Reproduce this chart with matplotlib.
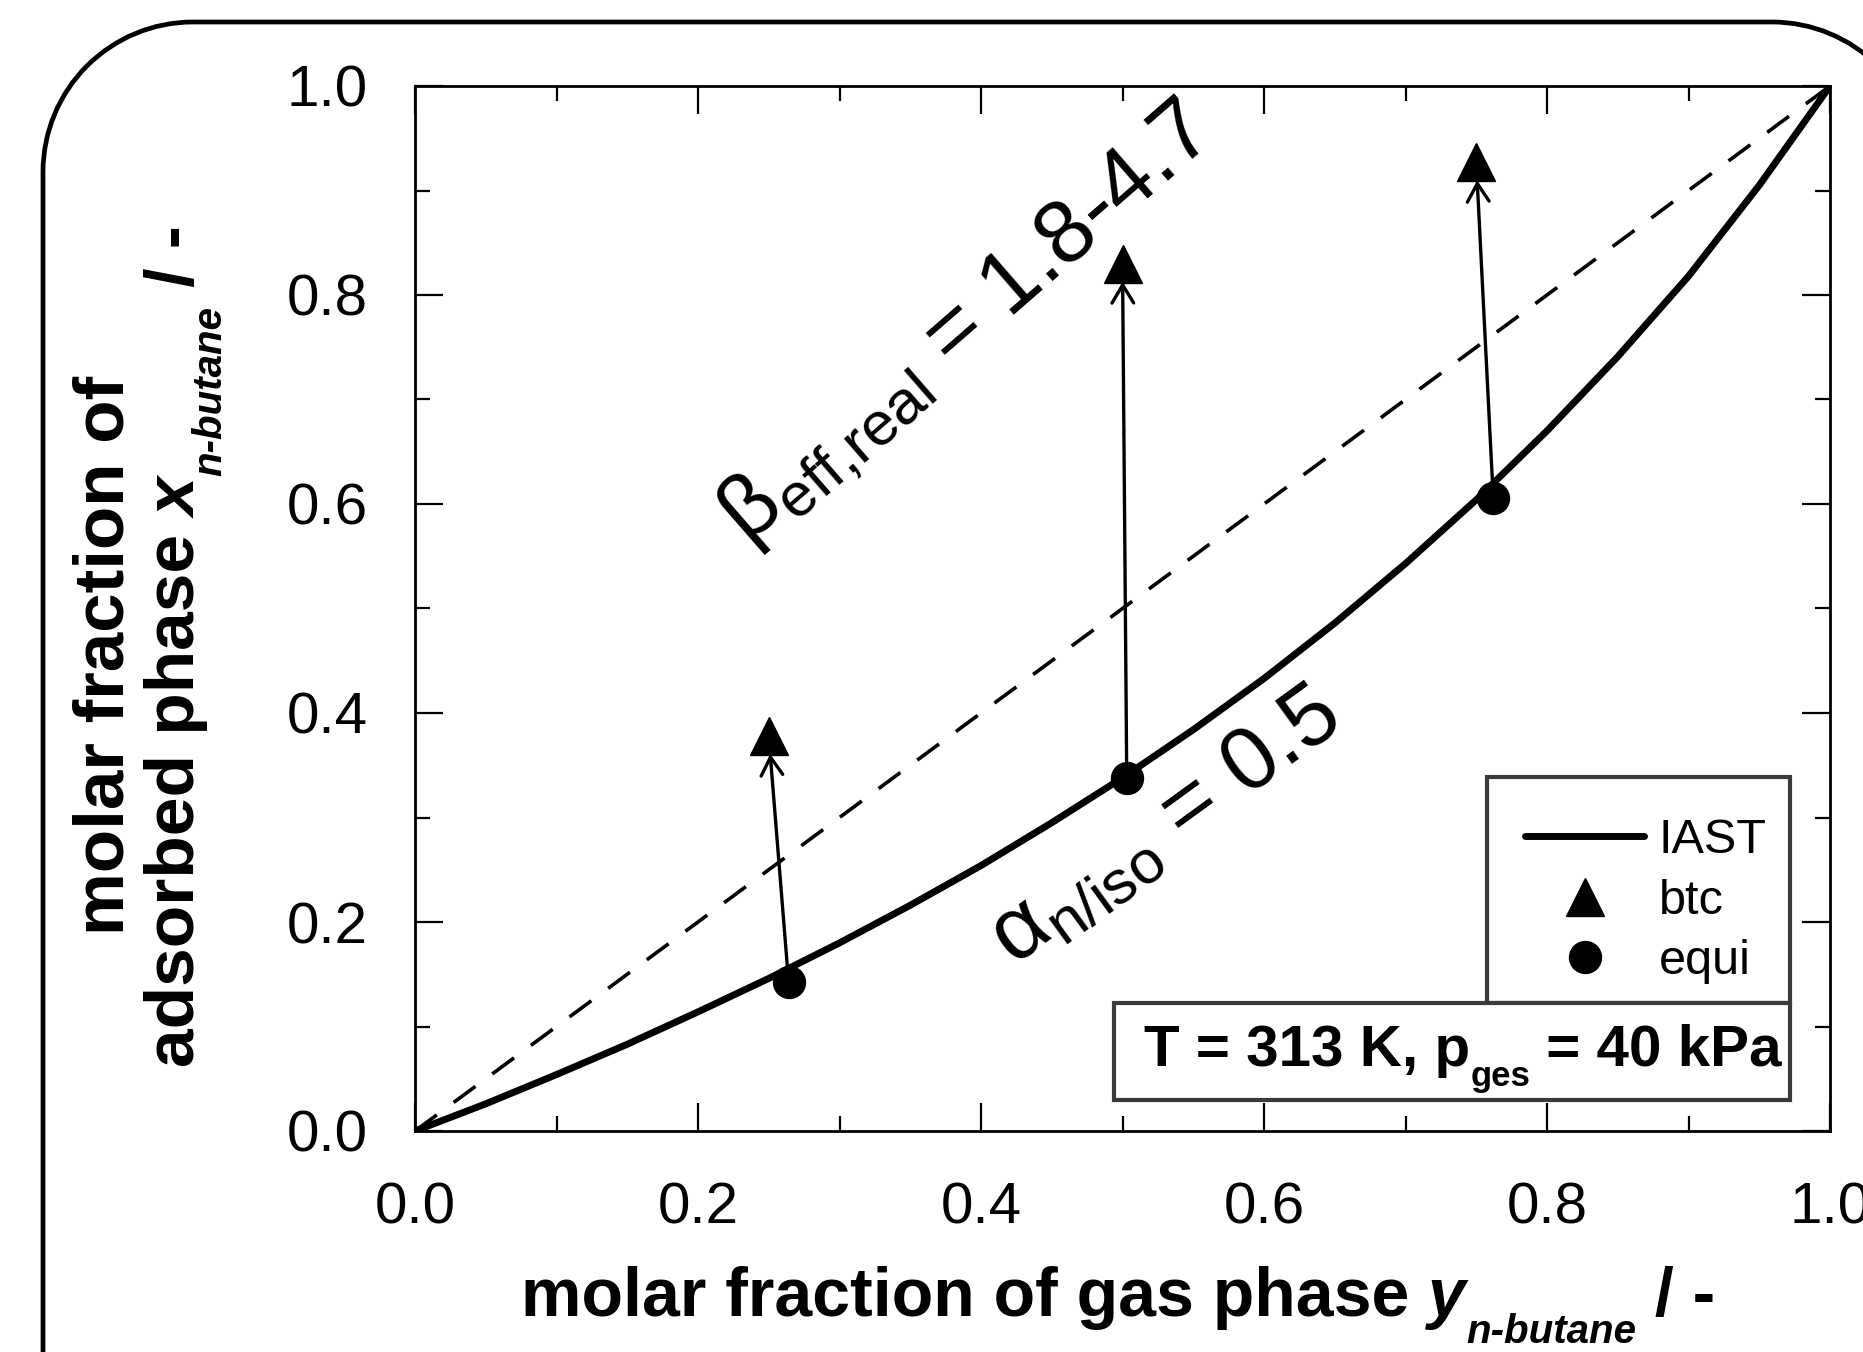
import matplotlib
matplotlib.use('Agg')
import matplotlib.pyplot as plt
from matplotlib.patches import PathPatch, Rectangle
from matplotlib.path import Path
from matplotlib.transforms import IdentityTransform
from matplotlib.ticker import MultipleLocator, FormatStrFormatter

plt.rcParams['font.family'] = 'Liberation Sans'
plt.rcParams['mathtext.fontset'] = 'custom'
plt.rcParams['mathtext.rm'] = 'Liberation Sans'
plt.rcParams['mathtext.it'] = 'Liberation Sans:italic'
plt.rcParams['mathtext.bf'] = 'Liberation Sans:bold'

# ── DATA ───────────────────────────────────────────────────
# IAST prediction, n-butane in gas phase vs. adsorbed phase
iast_y_gas = [0.00, 0.05, 0.10, 0.15, 0.20, 0.25, 0.30, 0.35, 0.40, 0.45, 0.50,
              0.55, 0.60, 0.65, 0.70, 0.75, 0.80, 0.85, 0.90, 0.95, 1.00]
iast_x_ads = [0.000, 0.026, 0.054, 0.083, 0.114, 0.146, 0.180, 0.216, 0.254, 0.295, 0.338,
              0.384, 0.433, 0.486, 0.543, 0.604, 0.670, 0.741, 0.818, 0.905, 1.000]

# diagonal (no selectivity)
diag_y = [0.0, 1.0]
diag_x = [0.0, 1.0]

# breakthrough curve results
btc_y_gas = [0.250, 0.500, 0.750]
btc_x_ads = [0.378, 0.830, 0.927]

# equilibrium measurements
equi_y_gas = [0.264, 0.503, 0.762]
equi_x_ads = [0.143, 0.338, 0.606]

legend_labels = ['IAST', 'btc', 'equi']

# ── FIGURE ─────────────────────────────────────────────────
W, H = 1863, 1352
fig = plt.figure(figsize=(W / 100, H / 100), dpi=100)
fig.patch.set_facecolor('white')
renderer = fig.canvas.get_renderer()

# rounded frame around everything, open towards the lower right (runs off the canvas)
r, L, T, R, B = 150, 43, H - 22, 1922, -300
verts, codes = [(R, B), (R, T - r)], [Path.MOVETO, Path.LINETO]
a = Path.arc(0, 90)
verts += [(R - r + r * vx, T - r + r * vy) for vx, vy in a.vertices[1:]]
codes += list(a.codes[1:])
verts.append((L + r, T)); codes.append(Path.LINETO)
a = Path.arc(90, 180)
verts += [(L + r + r * vx, T - r + r * vy) for vx, vy in a.vertices[1:]]
codes += list(a.codes[1:])
verts.append((L, B)); codes.append(Path.LINETO)
fig.add_artist(PathPatch(Path(verts, codes), facecolor='none', edgecolor='black',
                         linewidth=3.4, transform=IdentityTransform()))


def run_text(runs, x, y, rotation=0):
    """Chain text pieces (text, size, style, drop_px) centred on x (or y when rotated)."""
    arts, lengths = [], []
    for s, size, style, drop in runs:
        t = fig.text(0, 0, s, fontsize=size, fontweight='bold', fontstyle=style,
                     rotation=rotation, rotation_mode='anchor', ha='left', va='baseline',
                     transform=IdentityTransform(), zorder=9)
        bb = t.get_window_extent(renderer)
        lengths.append(bb.width if rotation == 0 else bb.height)
        arts.append((t, drop))
    pos = (x if rotation == 0 else y) - sum(lengths) / 2
    for (t, drop), ln in zip(arts, lengths):
        if rotation == 0:
            t.set_position((pos, y - drop))
        else:
            t.set_position((x + drop, pos))
        pos += ln


ax = fig.add_axes([415 / W, 1 - 1131 / H, 1415 / W, 1045 / H])
ax.set_xlim(0, 1)
ax.set_ylim(0, 1)

ax.plot(diag_x, diag_y, color='black', lw=2.6, linestyle=(0, (7.5, 5.8)), zorder=2)
iast_line, = ax.plot(iast_y_gas, iast_x_ads, color='black', lw=5, solid_capstyle='round',
                     solid_joinstyle='round', zorder=3)

for xs, ys, xe, ye in zip(equi_y_gas, equi_x_ads, btc_y_gas, btc_x_ads):
    ax.annotate('', xy=(xe, ye), xytext=(xs, ys),
                arrowprops=dict(arrowstyle='->,head_length=0.5,head_width=0.3',
                                mutation_scale=26, lw=2.4, color='black',
                                shrinkA=11, shrinkB=13), zorder=4)

btc_pts, = ax.plot(btc_y_gas, btc_x_ads, '^', ms=28, color='black', zorder=5)
equi_pts, = ax.plot(equi_y_gas, equi_x_ads, 'o', ms=23, color='black', zorder=5)

# axes styling
for sp in ax.spines.values():
    sp.set_linewidth(2.0)
ax.xaxis.set_major_locator(MultipleLocator(0.2))
ax.yaxis.set_major_locator(MultipleLocator(0.2))
ax.xaxis.set_minor_locator(MultipleLocator(0.1))
ax.yaxis.set_minor_locator(MultipleLocator(0.1))
ax.xaxis.set_major_formatter(FormatStrFormatter('%.1f'))
ax.yaxis.set_major_formatter(FormatStrFormatter('%.1f'))
ax.tick_params(which='both', direction='in', top=True, right=True, width=1.6)
ax.tick_params(which='major', length=20, labelsize=42)
ax.tick_params(which='minor', length=11)
ax.tick_params(axis='x', which='major', pad=36)
ax.tick_params(axis='y', which='major', pad=34)

# axis labels, built piecewise for the low-set subscripts
run_text([('molar fraction of gas phase', 49, 'normal', 0),
          (' y', 49, 'italic', 0),
          ('n-butane', 29, 'italic', 27),
          (' / -', 49, 'normal', 0)], 1118, H - 1316)
run_text([('molar fraction of', 51, 'normal', 0)], 124, H - 655, rotation=90)
run_text([('adsorbed phase', 50, 'normal', 0),
          (' x', 50, 'italic', 0),
          ('n-butane', 29, 'italic', 27),
          (' / -', 50, 'normal', 0)], 194, H - 646, rotation=90)

# selectivity annotations
ax.text(0.391, 0.770, r'$\mathrm{\beta}_{\text{eff,real}}$ = 1.8-4.7', fontsize=64,
        rotation=41, rotation_mode='anchor', ha='center', va='center', zorder=6)
ax.text(0.531, 0.290, r'$\mathrm{\alpha}_{\text{n/iso}}$ = 0.5', fontsize=64,
        rotation=36, rotation_mode='anchor', ha='center', va='center', zorder=6)

# legend box and condition box
box_col = '#3a3a3a'
ax.add_patch(Rectangle((0.7576, 0.1225), 0.9717 - 0.7576, 0.3388 - 0.1225, transform=ax.transAxes,
                       facecolor='white', edgecolor=box_col, lw=3.0, zorder=7, clip_on=False))
ax.add_patch(Rectangle((0.494, 0.0297), 0.9717 - 0.494, 0.1225 - 0.0297, transform=ax.transAxes,
                       facecolor='white', edgecolor=box_col, lw=3.0, zorder=7, clip_on=False))

leg = ax.legend([iast_line, btc_pts, equi_pts], legend_labels,
                loc='upper left', bbox_to_anchor=(0.7845, 0.2995), frameon=False,
                fontsize=35, handlelength=2.45, handletextpad=0.3, borderpad=0,
                borderaxespad=0, labelspacing=0.32, numpoints=1)
leg.set_zorder(8)

run_text([('T = 313 K, p', 42, 'normal', 0),
          ('ges', 25, 'normal', 20),
          (' = 40 kPa', 42, 'normal', 0)], 1463, H - 1066)

fig.savefig('out.png', dpi=100, facecolor='white')
